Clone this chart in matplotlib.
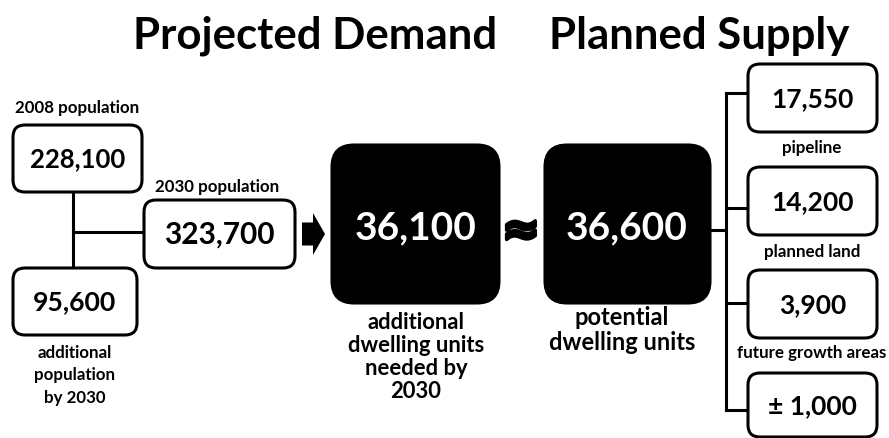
import matplotlib
matplotlib.use('Agg')
import matplotlib.pyplot as plt
import matplotlib.patheffects as pe
from matplotlib.patches import FancyBboxPatch, FancyArrow

plt.rcParams['font.family'] = ['Lato', 'DejaVu Sans']
plt.rcParams['font.weight'] = 'bold'

# data
titles = ['Projected Demand', 'Planned Supply']
pop_values = ['228,100', '95,600', '323,700']
pop_labels = ['2008 population', 'additional\npopulation\nby 2030', '2030 population']
demand_total = '36,100'
demand_label = 'additional\ndwelling units\nneeded by\n2030'
supply_total = '36,600'
supply_label = 'potential\ndwelling units'
supply_values = ['17,550', '14,200', '3,900', '\u00b1 1,000']
supply_labels = ['pipeline', 'planned land', 'future growth areas', '']

fig = plt.figure(figsize=(8.89, 4.38), dpi=100)
ax = fig.add_axes([0, 0, 1, 1])
ax.set_xlim(0, 889)
ax.set_ylim(438, 0)
ax.axis('off')

lw = 2.2
small = 12.2
big = 28

def box(x0, y0, x1, y1, black=False, r=12):
    fc = 'black' if black else 'white'
    p = FancyBboxPatch((x0, y0), x1 - x0, y1 - y0,
                       boxstyle='round,pad=0,rounding_size=%d' % r,
                       fc=fc, ec='black', lw=lw, zorder=2)
    ax.add_patch(p)

# titles
ax.text(315, 36, titles[0], fontsize=31.5, ha='center', va='center')
ax.text(699, 36, titles[1], fontsize=31.5, ha='center', va='center')

# population boxes
pop_boxes = [(13, 125, 142, 192), (13, 268, 137, 335), (144, 200, 295, 268)]
pop_sizes = [18.5, 19.2, 21.5]
for (x0, y0, x1, y1), v, fs in zip(pop_boxes, pop_values, pop_sizes):
    box(x0, y0, x1, y1)
    ax.text((x0 + x1) / 2, (y0 + y1) / 2 + 1, v, fontsize=fs, ha='center', va='center', zorder=3)
ax.text(77, 108, pop_labels[0], fontsize=small, ha='center', va='center')
ax.text(75, 375, pop_labels[1], fontsize=small, ha='center', va='center', linespacing=1.5)
ax.text(217, 187, pop_labels[2], fontsize=small, ha='center', va='center')

ax.plot([73, 73], [192, 268], color='black', lw=lw, zorder=1)
ax.plot([73, 144], [232, 232], color='black', lw=lw, zorder=1)

# arrow
ax.add_patch(FancyArrow(302, 234, 23, 0, width=23, head_width=42, head_length=12,
                        length_includes_head=True, color='black', lw=0))

# demand total
box(332, 145, 499, 303, black=True, r=22)
ax.text(416, 228, demand_total, fontsize=big, color='white', ha='center', va='center', zorder=3)
ax.text(416, 357, demand_label, fontsize=15.8, ha='center', va='center', linespacing=1.12)

ax.text(521, 232, '\u2248', fontsize=33, ha='center', va='center', family='DejaVu Sans',
        path_effects=[pe.withStroke(linewidth=2.5, foreground='black')])

# supply total
box(545, 145, 710, 303, black=True, r=22)
ax.text(627, 228, supply_total, fontsize=big, color='white', ha='center', va='center', zorder=3)
ax.text(622, 330, supply_label, fontsize=17, ha='center', va='center', linespacing=1.1)

# supply breakdown
ax.plot([710, 726], [230, 230], color='black', lw=lw, zorder=1)
supply_boxes = [(748, 64, 877, 132), (748, 167, 877, 235), (748, 270, 877, 338), (748, 373, 877, 437)]
branch_y = [93, 208, 303, 410]
ax.plot([726, 726], [branch_y[0], branch_y[-1]], color='black', lw=lw, zorder=1, solid_capstyle='projecting')
label_y = [148, 252, 353]
for (x0, y0, x1, y1), v, by in zip(supply_boxes, supply_values, branch_y):
    box(x0, y0, x1, y1)
    ax.plot([726, x0], [by, by], color='black', lw=lw, zorder=1)
    ax.text((x0 + x1) / 2, (y0 + y1) / 2 + 1, v, fontsize=19, ha='center', va='center', zorder=3)
for t, y in zip(supply_labels, label_y):
    ax.text(812, y, t, fontsize=small, ha='center', va='center')

fig.savefig('out.png', dpi=100)
